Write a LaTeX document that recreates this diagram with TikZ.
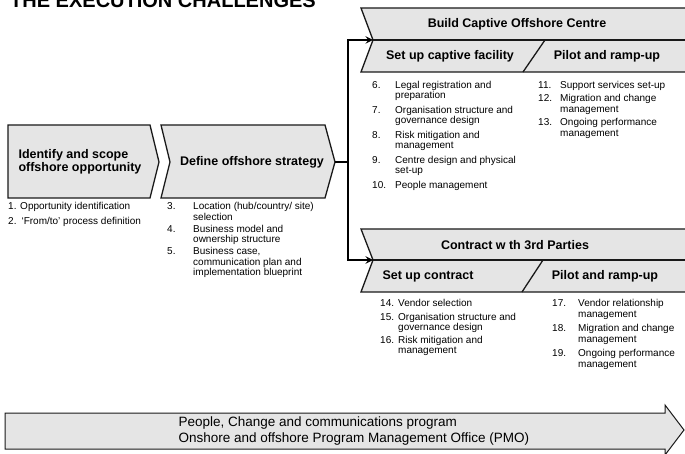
\documentclass[tikz,border=0pt]{standalone}
\usepackage{fontspec}
\setmainfont{Liberation Sans}
\usetikzlibrary{arrows}
\definecolor{boxgray}{RGB}{229,229,229}
\definecolor{edgegray}{RGB}{25,25,25}
\newcommand{\listfont}{\fontsize{10}{10.5}\selectfont}
\newcommand{\headfont}{\fontsize{12.5}{13}\selectfont\bfseries}

\begin{document}
\begin{tikzpicture}[x=1pt,y=-1pt]
  \useasboundingbox (0,0) rectangle (685,454);
  % title, cut by the top edge:
  \node[anchor=base west,inner sep=0pt,font=\fontsize{20}{20}\selectfont\bfseries] (title) at (10,8) {THE EXECUTION CHALLENGES};

  \begin{scope}[fill=boxgray,draw=edgegray,line width=1.3pt]
      % phases 1 and 2:
      \filldraw (8,125) -- (150,125) -- (159,162) -- (150,198) -- (8,198) -- cycle;
      \filldraw (161,125) -- (325,125) -- (335,162) -- (325,198) -- (161,198) -- (170,162) -- cycle;
      % captive centre:
      \filldraw (361,8) -- (690,8) -- (690,72) -- (361,72) -- (373,40) -- cycle;
      \draw (373,40) -- (690,40);
      \draw (523,72) -- (545,40);
      % 3rd parties:
      \filldraw (361,229) -- (690,229) -- (690,292) -- (361,292) -- (373,260) -- cycle;
      \draw (373,260) -- (690,260);
      \draw (522,292) -- (543,260);
      % program arrow:
      \filldraw[line width=1pt] (5,413) -- (665,413) -- (665,405) -- (684,430) -- (665,455) -- (665,449) -- (5,449) -- cycle;
  \end{scope}

  \coordinate (strat) at (335,162);
  \coordinate (fork) at (348,162);
  \coordinate (capin) at (373,40);
  \coordinate (conin) at (373,260);
  \begin{scope}[line width=2.2pt,>=stealth]
      \draw[->] (strat) -- (fork) |- (capin);
      \draw[->] (fork) |- (conin);
  \end{scope}

  \begin{scope}[font=\headfont]
      \node[anchor=west,align=left] (scope) at (15,162) {Identify and scope\\offshore opportunity};
      \node (strategy) at (252,162) {Define offshore strategy};
      \node (captive) at (517,24) {Build Captive Offshore Centre};
      \node (capset) at (450,56) {Set up captive facility};
      \node (cappilot) at (607,56) {Pilot and ramp-up};
      \node (contract) at (515,245) {Contract w th 3rd Parties};
      \node (conset) at (428,276) {Set up contract};
      \node (conpilot) at (605,276) {Pilot and ramp-up};
  \end{scope}

  \begin{scope}[font=\listfont,inner sep=0pt]
      % steps 1--5:
      \node[anchor=base west] (L1) at (8,210) {\begin{tabular}[t]{@{}l@{}}
        1. Opportunity identification\\[4.5pt]
        2.\enspace‘From/to’ process definition
      \end{tabular}};
      \node[anchor=base west] (L2) at (167,210) {\begin{tabular}[t]{@{}p{26pt}@{}l@{}}
        3. & Location (hub/country/ site)\\ & selection\\[1.5pt]
        4. & Business model and\\ & ownership structure\\[1.5pt]
        5. & Business case,\\ & communication plan and\\ & implementation blueprint
      \end{tabular}};
      % steps 6--13:
      \node[anchor=base west] (L3) at (372,88.5) {\begin{tabular}[t]{@{}p{23pt}@{}l@{}}
        6. & Legal registration and\\ & preparation\\[4pt]
        7. & Organisation structure and\\ & governance design\\[4pt]
        8. & Risk mitigation and\\ & management\\[4pt]
        9. & Centre design and physical\\ & set-up\\[4pt]
        10. & People management
      \end{tabular}};
      \node[anchor=base west] (L4) at (538,88.5) {\begin{tabular}[t]{@{}p{22pt}@{}l@{}}
        11. & Support services set-up\\[3pt]
        12. & Migration and change\\ & management\\[3pt]
        13. & Ongoing performance\\ & management
      \end{tabular}};
      % steps 14--19:
      \node[anchor=base west] (L5) at (380,306.5) {\begin{tabular}[t]{@{}p{18pt}@{}l@{}}
        14. & Vendor selection\\[3pt]
        15. & Organisation structure and\\ & governance design\\[2pt]
        16. & Risk mitigation and\\ & management
      \end{tabular}};
      \node[anchor=base west] (L6) at (552,306.5) {\begin{tabular}[t]{@{}p{26pt}@{}l@{}}
        17. & Vendor relationship\\ & management\\[4pt]
        18. & Migration and change\\ & management\\[4pt]
        19. & Ongoing performance\\ & management
      \end{tabular}};
  \end{scope}

  \node[anchor=west,align=left,font=\fontsize{13.5}{16}\selectfont] (pmo) at (175,431) {People, Change and communications program\\Onshore and offshore Program Management Office (PMO)};
\end{tikzpicture}
\end{document}
